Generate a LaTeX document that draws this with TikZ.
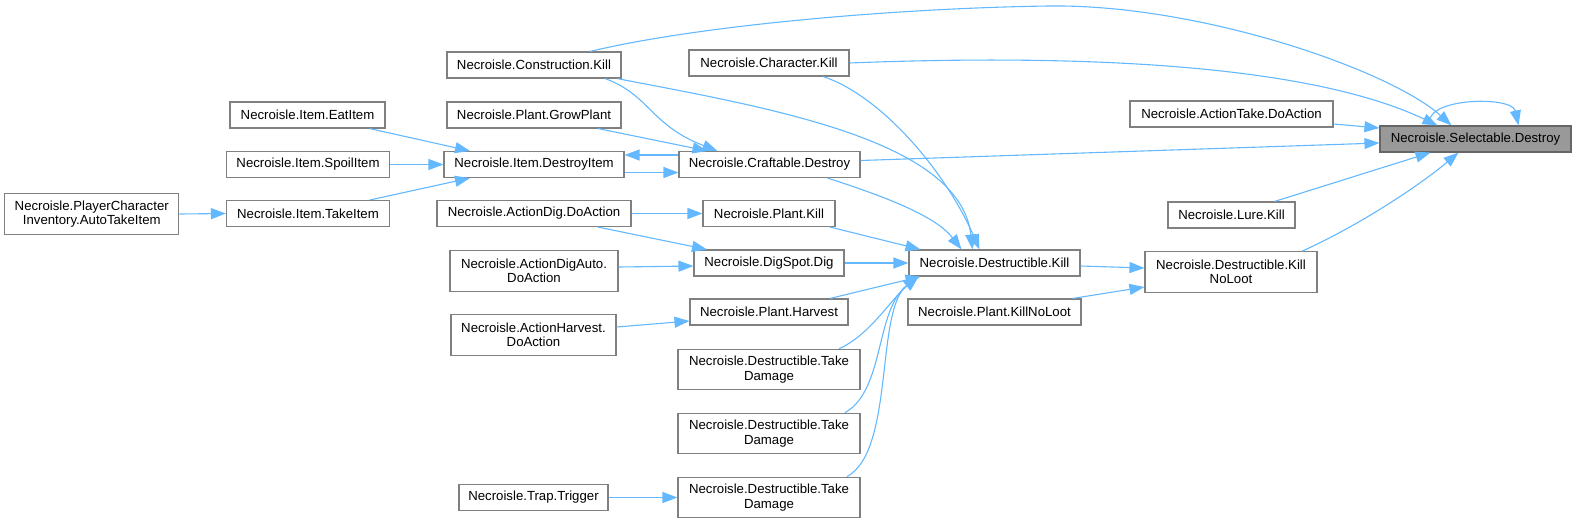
\documentclass[tikz,border=0pt]{standalone}
\usepackage{fontspec}
\setmainfont{Liberation Sans}
\usetikzlibrary{arrows.meta}
\definecolor{edgeblue}{HTML}{63B8FF}
\definecolor{nodeborder}{HTML}{808080}
\definecolor{selfill}{HTML}{999999}
\definecolor{selborder}{HTML}{666666}
\tikzset{
  box/.style={draw=nodeborder, fill=white, line width=1.1pt, inner sep=0pt, align=center,
    minimum height=26pt, font=\fontsize{13.2}{14.5}\selectfont},
  tall/.style={minimum height=40.5pt},
  selbox/.style={box, draw=selborder, fill=selfill},
  edge/.style={draw=edgeblue, line width=1.1pt, -{Triangle[length=15pt,width=11pt]}},
}
\begin{document}
\begin{tikzpicture}[x=1pt,y=-1pt]
\useasboundingbox (0,0) rectangle (1576,523);
% nodes
\node[selbox, minimum width=191pt] (sel) at (1475.5,139) {Necroisle.Selectable.Destroy};
\node[box, minimum width=203pt] (take) at (1231.5,114) {Necroisle.ActionTake.DoAction};
\node[box, minimum width=127pt] (lure) at (1231.5,215) {Necroisle.Lure.Kill};
\node[box, tall, minimum width=172pt] (knl) at (1231,272) {Necroisle.Destructible.Kill\\NoLoot};
\node[box, minimum width=171pt] (dkill) at (994.5,263) {Necroisle.Destructible.Kill};
\node[box, minimum width=173pt] (pknl) at (994.5,312) {Necroisle.Plant.KillNoLoot};
\node[box, minimum width=174pt] (conkill) at (534,65) {Necroisle.Construction.Kill};
\node[box, minimum width=160pt] (charkill) at (769,63) {Necroisle.Character.Kill};
\node[box, minimum width=174pt] (grow) at (534,115) {Necroisle.Plant.GrowPlant};
\node[box, minimum width=181pt] (craft) at (769.5,164.5) {Necroisle.Craftable.Destroy};
\node[box, minimum width=132pt] (plkill) at (769,213.5) {Necroisle.Plant.Kill};
\node[box, minimum width=150pt] (dig) at (769,263) {Necroisle.DigSpot.Dig};
\node[box, minimum width=158pt] (harvest) at (769,312) {Necroisle.Plant.Harvest};
\node[box, tall, minimum width=182pt] (tdone) at (769,369.5) {Necroisle.Destructible.Take\\Damage};
\node[box, tall, minimum width=182pt] (tdtwo) at (769,433.5) {Necroisle.Destructible.Take\\Damage};
\node[box, tall, minimum width=182pt] (tdthree) at (769,497.5) {Necroisle.Destructible.Take\\Damage};
\node[box, minimum width=180pt] (ditem) at (534,164.5) {Necroisle.Item.DestroyItem};
\node[box, minimum width=194pt] (adig) at (534,213.5) {Necroisle.ActionDig.DoAction};
\node[box, tall, minimum width=168pt] (adigauto) at (534,271) {Necroisle.ActionDigAuto.\\DoAction};
\node[box, tall, minimum width=165pt] (aharv) at (533.5,335) {Necroisle.ActionHarvest.\\DoAction};
\node[box, minimum width=149pt] (trap) at (533.5,497.5) {Necroisle.Trap.Trigger};
\node[box, minimum width=155pt] (eat) at (307.5,115) {Necroisle.Item.EatItem};
\node[box, minimum width=163pt] (spoil) at (308,164.5) {Necroisle.Item.SpoilItem};
\node[box, minimum width=163pt] (takeitem) at (308,213.5) {Necroisle.Item.TakeItem};
\node[box, tall, minimum width=174pt] (player) at (91.75,214) {Necroisle.PlayerCharacter\\Inventory.AutoTakeItem};
% edges into Selectable.Destroy
\draw[edge] ([xshift=56pt]conkill.north) .. controls (700,25) and (900,8) .. (1049,6)
  .. controls (1200,4) and (1390,70) .. ([xshift=-24pt]sel.north);
\draw[edge] (charkill.east) .. controls (1050,55) and (1300,60) .. ([xshift=-38pt]sel.north);
\draw[edge] ([yshift=-10pt]take.east) -- ([yshift=11pt]sel.west);
\draw[edge] ([yshift=4pt]craft.east) -- ([yshift=-4pt]sel.west);
\draw[edge] ([xshift=43pt]lure.north) -- ([xshift=-45pt]sel.south);
\draw[edge] ([xshift=71pt]knl.north) .. controls (1360,225) and (1420,185) .. ([xshift=-17pt]sel.south);
\draw[edge] ([xshift=-45pt]sel.north) .. controls (1420,98) and (1512,95) .. ([xshift=43pt]sel.north);
% into Craftable.Destroy
\draw[edge] ([xshift=71pt]conkill.south) .. controls (650,95) and (650,125) .. ([xshift=-52pt]craft.north);
\draw[edge] ([xshift=64pt]grow.south) -- ([xshift=-62pt]craft.north);
\draw[edge] ([yshift=-8pt]ditem.east) -- ([yshift=-8pt]craft.west);
\draw[edge] ([yshift=9.5pt]craft.west) -- ([yshift=9.5pt]ditem.east);
% into Item.DestroyItem
\draw[edge] ([xshift=62pt]eat.south) -- ([xshift=-64pt]ditem.north);
\draw[edge] (spoil.east) -- (ditem.west);
\draw[edge] ([xshift=62pt]takeitem.north) -- ([xshift=-64pt]ditem.south);
\draw[edge] (player.east) -- (takeitem.west);
% into Destructible.Kill
\draw[edge] ([xshift=83pt]conkill.south) .. controls (770,108) and (960,140) .. ([xshift=-22pt]dkill.north);
\draw[edge] ([xshift=54pt]charkill.south) .. controls (880,95) and (945,170) .. ([xshift=-15pt]dkill.north);
\draw[edge] ([xshift=58pt]craft.south) .. controls (880,195) and (935,215) .. ([xshift=-33pt]dkill.north);
\draw[edge] ([xshift=61pt]plkill.south) -- ([xshift=-74pt]dkill.north);
\draw[edge] (dig.east) -- (dkill.west);
\draw[edge] ([xshift=61pt]harvest.north) -- ([xshift=-74pt]dkill.south);
\draw[edge] ([xshift=70pt]tdone.north) .. controls (870,335) and (890,300) .. ([xshift=-76pt]dkill.south);
\draw[edge] ([xshift=76pt]tdtwo.north) .. controls (885,390) and (875,310) .. ([xshift=-76pt]dkill.south);
\draw[edge] ([xshift=78pt]tdthree.north) .. controls (895,450) and (875,310) .. ([xshift=-76pt]dkill.south);
% into Kill NoLoot
\draw[edge] ([yshift=-3pt]dkill.east) -- ([yshift=4pt]knl.west);
\draw[edge] ([xshift=78pt]pknl.north) -- ([yshift=-15pt]knl.west);
% left side
\draw[edge] (adig.east) -- (plkill.west);
\draw[edge] ([xshift=64pt]adig.south) -- ([xshift=-62pt]dig.north);
\draw[edge] ([yshift=4pt]adigauto.east) -- ([yshift=-3pt]dig.west);
\draw[edge] ([yshift=8pt]aharv.east) -- ([yshift=-9pt]harvest.west);
\draw[edge] (trap.east) -- (tdthree.west);
\end{tikzpicture}
\end{document}
